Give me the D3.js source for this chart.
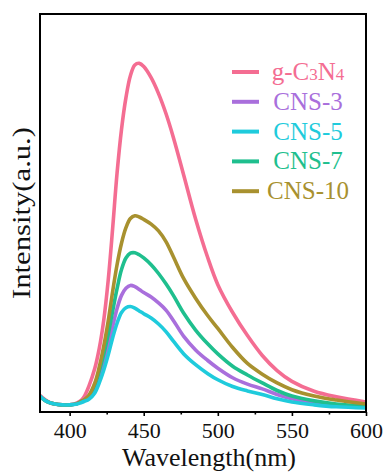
<!DOCTYPE html>
<html>
<head>
<meta charset="UTF-8">
<title>PL spectra</title>
<script src="https://d3js.org/d3.v7.min.js"></script>
<style>
  body { margin: 0; background: #fff; }
  text { font-family: "Liberation Serif", "Times New Roman", serif; }
</style>
</head>
<body>
<svg id="chart" width="383" height="473"></svg>
<script>
// wavelength (nm) sample points
var wavelengths = [380,383,386,390,395,400,405,408,410,413,417,420,423,426,429,432,435,438,441,444,447,450,455,460,465,470,477,485,493,500,510,520,530,540,550,565,580,600];

// intensities (a.u.)
var gC3N4 = [4.2,3.2,2.5,2.0,1.8,1.8,2.3,3.0,4.0, 6.5,11,16,23,33,46,60,71,79,84.5,87.2,87.6,86.8, 84,80,75,69,59.5,48.5,39,32, 25,19.2,14.2,10.4,7.7,5.2,3.8,2.5];
var cns3  = [3.9,3.0,2.4,2.0,1.8,1.8,2.1,2.6,3.0, 3.6,5.6,8.3,12.2,16.6,21.4,26,29.3,31.1,31.8,31.5,30.8,30.0, 28.9,27.4,25.6,23,19,15.6,13,11, 8.6,7,5.8,4.4,3.3,2.3,1.7,1.2];
var cns5  = [4.0,3.0,2.4,2.0,1.8,1.8,2.0,2.4,2.7, 3.2,4.8,7.3,10.5,14.3,18.6,22.3,25,26.2,26.5,26.1,25.4,24.7, 23.6,22.1,20.2,17.8,14.6,11.9,9.7,8.1, 6.4,5.3,4.4,3.3,2.5,1.8,1.3,1.0];
var cns7  = [3.9,3.0,2.4,2.0,1.8,1.8,2.1,2.7,3.0, 4.0,6.8,10.3,14.5,19.5,25.3,31,35.8,38.7,39.9,40,39.5,38.7, 37,34.8,32.2,29.3,24.8,20.6,17.2,14.6, 11.5,9.3,7.3,5.4,4.0,2.8,2.0,1.5];
var cns10 = [3.9,3.0,2.4,2.0,1.8,1.8,2.1,2.7,3.1, 4.2,7.3,11.3,16.5,22.8,30.2,37,42.4,46.3,48.6,49.3,49,48.4, 47.2,45.5,42.8,39,33.5,28.6,24.3,21, 16.2,12.2,9.5,7.3,5.6,4,3,2];

var names  = ["g-C3N4", "CNS-3", "CNS-5", "CNS-7", "CNS-10"];
var colors = ["#f46d92", "#a96fdc", "#1fcbdc", "#1fbf8e", "#a8912f"];
var series = [gC3N4, cns3, cns5, cns7, cns10];
var drawOrder = [0, 1, 3, 4, 2];

var majorTicks = [400, 450, 500, 550, 600];
var minorTicks = [425, 475, 525, 575];

var svg = d3.select("#chart");
var plotL = 40, plotR = 366, plotT = 14, plotB = 412;

var x = d3.scaleLinear().domain([380, 600]).range([plotL, plotR]);
var y = d3.scaleLinear().domain([0, 100]).range([plotB, plotT]);

svg.append("defs").append("clipPath").attr("id", "clip")
  .append("rect").attr("x", plotL).attr("y", plotT)
  .attr("width", plotR - plotL).attr("height", plotB - plotT);

var line = d3.line()
  .x(function(d) { return x(d[0]); })
  .y(function(d) { return y(d[1]); })
  .curve(d3.curveCatmullRom.alpha(0.5));

drawOrder.forEach(function(k) {
  var pts = wavelengths.map(function(w, i) { return [w, series[k][i]]; });
  svg.append("path")
    .attr("clip-path", "url(#clip)")
    .attr("d", line(pts))
    .attr("fill", "none")
    .attr("stroke", colors[k])
    .attr("stroke-width", 3.6)
    .attr("stroke-linejoin", "round");
});

// x axis, major + minor ticks
var xAxis = d3.axisBottom(x).tickValues(majorTicks).tickSize(4).tickSizeOuter(0).tickPadding(6);
var gx = svg.append("g").attr("transform", "translate(0," + plotB + ")").call(xAxis);
gx.select(".domain").remove();
gx.selectAll("line").attr("stroke", "#000").attr("stroke-width", 1.6);
gx.selectAll("text").attr("font-family", "Liberation Serif").attr("font-size", "22px").attr("fill", "#111");

var gm = svg.append("g").attr("transform", "translate(0," + plotB + ")")
  .call(d3.axisBottom(x).tickValues(minorTicks).tickSize(2.5).tickFormat(""));
gm.select(".domain").remove();
gm.selectAll("line").attr("stroke", "#000").attr("stroke-width", 1.6);

// frame
svg.append("rect")
  .attr("x", plotL).attr("y", plotT)
  .attr("width", plotR - plotL).attr("height", plotB - plotT)
  .attr("fill", "none").attr("stroke", "#000").attr("stroke-width", 2);

// axis titles
svg.append("text")
  .attr("x", 209).attr("y", 466)
  .attr("text-anchor", "middle")
  .attr("font-size", "26px").attr("fill", "#111")
  .text("Wavelength(nm)");

svg.append("text")
  .attr("transform", "translate(30,213) rotate(-90)")
  .attr("text-anchor", "middle")
  .attr("font-size", "25px").attr("fill", "#111")
  .attr("textLength", 172).attr("lengthAdjust", "spacingAndGlyphs")
  .text("Intensity(a.u.)");

// legend
var legend = svg.append("g");
names.forEach(function(n, i) {
  var ly = 72 + i * 29.8;
  legend.append("line")
    .attr("x1", 232).attr("x2", 259).attr("y1", ly).attr("y2", ly)
    .attr("stroke", colors[i]).attr("stroke-width", 4);
  var t = legend.append("text")
    .attr("x", 308).attr("y", ly + 8)
    .attr("text-anchor", "middle")
    .attr("font-size", "25px").attr("fill", colors[i]);
  if (n === "g-C3N4") {
    t.append("tspan").text("g-C");
    t.append("tspan").attr("font-size", "17px").text("3");
    t.append("tspan").text("N");
    t.append("tspan").attr("font-size", "17px").text("4");
  } else {
    t.text(n);
  }
});
</script>
</body>
</html>
